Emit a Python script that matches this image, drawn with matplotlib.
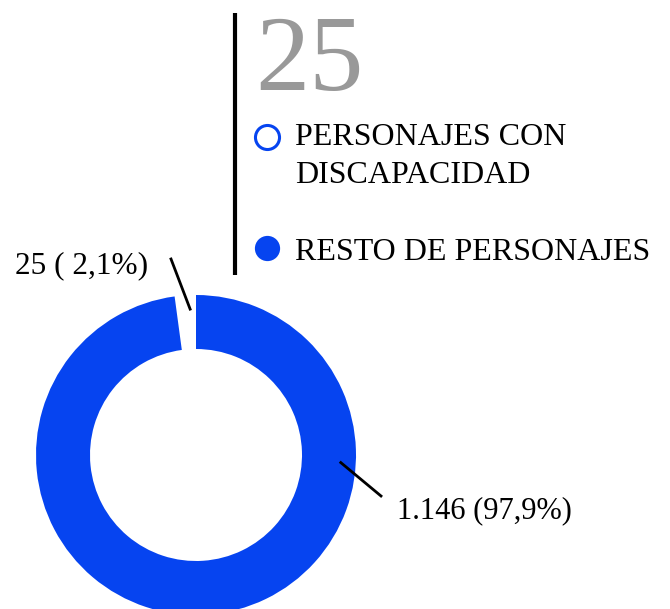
import numpy as np
import matplotlib.pyplot as plt

# data
labels = ['PERSONAJES CON\nDISCAPACIDAD', 'RESTO DE PERSONAJES']
values = [25, 1146]
value_text = ['25 ( 2,1%)', '1.146 (97,9%)']
headline = '25'

blue = '#0644F0'
W, H = 670, 609
plt.rcParams['font.family'] = ['Liberation Serif', 'DejaVu Serif']

fig = plt.figure(figsize=(W / 100, H / 100), dpi=100)
ax = fig.add_axes([0, 0, 1, 1])


def py(y):
    # pixel row (top = 0) -> data y
    return H - y


cx, cy, R, ring = 196, py(455), 160, 54
ax.pie(values, colors=['white', blue], startangle=90, counterclock=True,
       center=(cx, cy), radius=R,
       wedgeprops=dict(width=ring, edgecolor='white', linewidth=0))
ax.set_xlim(0, W)
ax.set_ylim(0, H)
ax.set_aspect('equal')
ax.axis('off')

# leader lines for the value labels
total = sum(values)
small_ang = np.deg2rad(90 + 360 * values[0] / total * 0.3)
p0 = (cx + 146 * np.cos(small_ang), cy + 146 * np.sin(small_ang))
ax.plot([p0[0], 171], [p0[1], py(259)], color='black', lw=2)
ax.text(15, py(273), value_text[0], fontsize=22.5, va='baseline', ha='left')

big_ang = np.deg2rad(-3)
p1 = (cx + 145 * np.cos(big_ang), cy + 145 * np.sin(big_ang))
ax.plot([p1[0], 381], [p1[1], py(496)], color='black', lw=2)
ax.text(397, py(518), value_text[1], fontsize=22, va='baseline', ha='left')

# side legend block
ax.plot([235, 235], [py(13), py(275)], color='black', lw=3, solid_capstyle='butt')
ax.text(255, py(90), headline, fontsize=78, color='#999999', va='baseline', ha='left')

ax.scatter([267], [py(137)], s=300, facecolor='white', edgecolor=blue, linewidth=2.2, zorder=3)
ax.scatter([267], [py(248)], s=330, facecolor=blue, edgecolor=blue, linewidth=0, zorder=3)
for line, base in zip(labels[0].split('\n'), [145, 183]):
    ax.text(295, py(base), line, fontsize=23, va='baseline', ha='left')
ax.text(295, py(260), labels[1], fontsize=23, va='baseline', ha='left')

fig.savefig('out.png', dpi=100)
